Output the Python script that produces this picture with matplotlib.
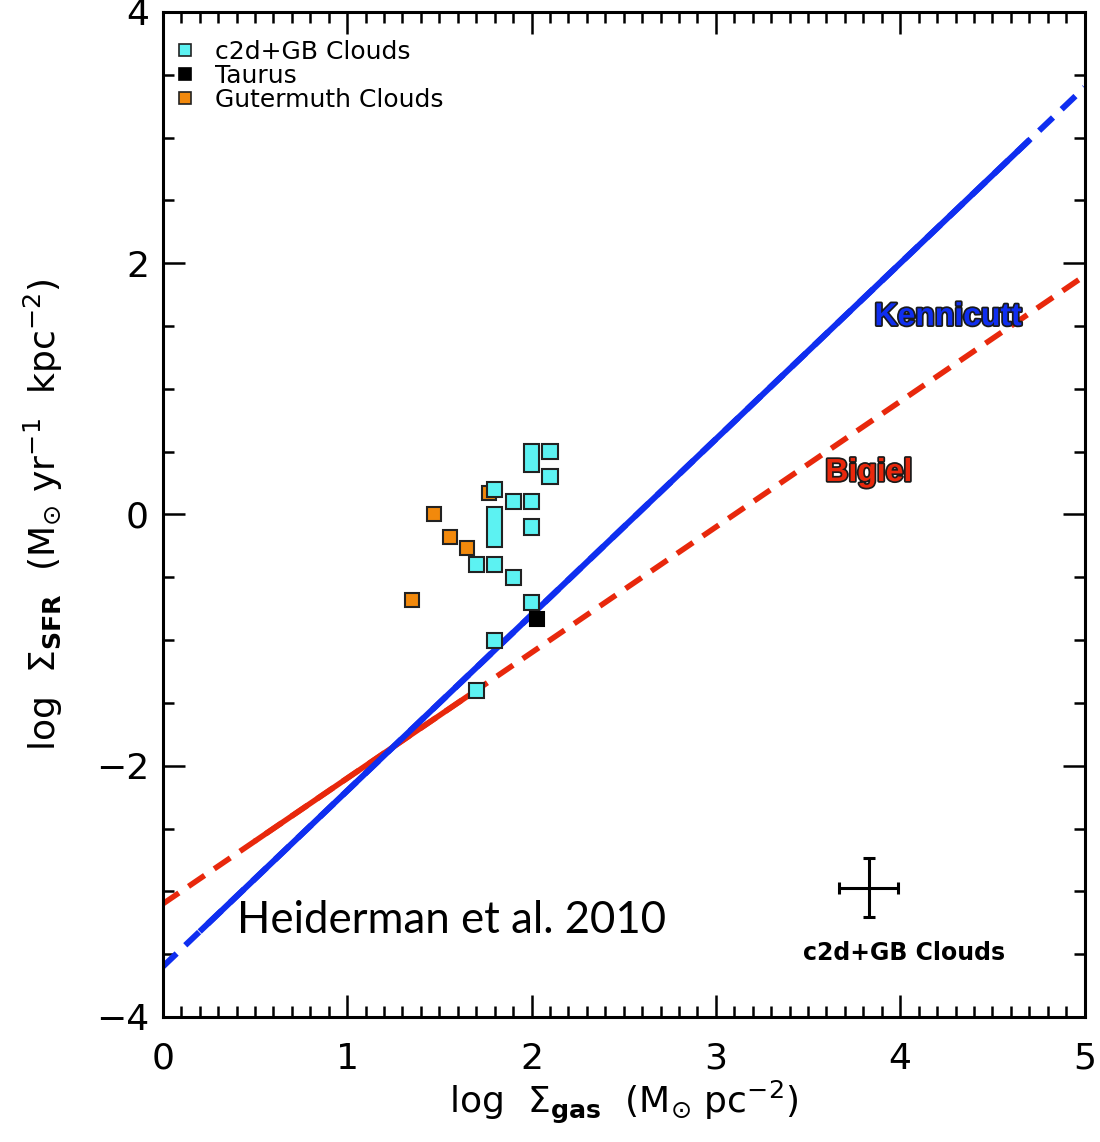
import numpy as np
import matplotlib
matplotlib.use("Agg")
import matplotlib.pyplot as plt
import matplotlib.patheffects as pe
from matplotlib.patches import Rectangle
from matplotlib.lines import Line2D

plt.rcParams['font.family'] = ['DejaVu Sans']
plt.rcParams['mathtext.fontset'] = 'dejavusans'
plt.rcParams['mathtext.default'] = 'regular'

# ----------------------------------------------------------
# data
# ----------------------------------------------------------

# c2d+GB clouds: x, y_low, y_high (tall boxes span several values)
c2d_x = [2.00, 2.10, 2.10, 1.80, 1.90, 2.00, 2.00, 1.80, 1.70, 1.80, 1.90, 2.00, 1.80, 1.70]
c2d_ylo = [0.40, 0.50, 0.30, 0.20, 0.10, 0.10, -0.10, -0.20, -0.40, -0.40, -0.50, -0.70, -1.00, -1.40]
c2d_yhi = [0.50, 0.50, 0.30, 0.20, 0.10, 0.10, -0.10, 0.00, -0.40, -0.40, -0.50, -0.70, -1.00, -1.40]

taurus_x = [2.03]
taurus_y = [-0.83]

guter_x = [1.77, 1.47, 1.56, 1.65, 1.35]
guter_y = [0.17, 0.00, -0.18, -0.27, -0.68]

# relations: log SFR = slope * log gas + offset
kenn_slope, kenn_offset = 1.4, -3.6
kenn_solid = [0.2, 4.7]
bigiel_slope, bigiel_offset = 1.0, -3.1
bigiel_solid = [0.5, 1.7]

# typical uncertainty
err_x, err_y = 3.83, -2.97
err_dx, err_dy = 0.16, 0.235

cyan = '#5cf2f2'
orange = '#f2890c'
blue = '#0f2ef0'
red = '#e8280c'

# ----------------------------------------------------------
# figure
# ----------------------------------------------------------

fig = plt.figure(figsize=(11, 11.42), dpi=100)
ax = fig.add_axes([0.148, 0.1095, 0.838, 0.880])

ax.set_xlim(0, 5)
ax.set_ylim(-4, 4)

# Kennicutt line
xx = np.linspace(0, 5, 2)
ax.plot(xx, kenn_slope * xx + kenn_offset, color=blue, lw=4.3,
        ls=(0, (3.2, 2.0)), zorder=2)
xs = np.array(kenn_solid)
ax.plot(xs, kenn_slope * xs + kenn_offset, color=blue, lw=4.3, zorder=3,
        solid_capstyle='butt')

# Bigiel line
ax.plot(xx, bigiel_slope * xx + bigiel_offset, color=red, lw=4.0,
        ls=(0, (3.5, 2.1)), zorder=2)
xs = np.array(bigiel_solid)
ax.plot(xs, bigiel_slope * xs + bigiel_offset, color=red, lw=4.0, zorder=2.5,
        solid_capstyle='butt')

# cyan boxes
w = 0.082
h = 0.12
for x, lo, hi in zip(c2d_x, c2d_ylo, c2d_yhi):
    ax.add_patch(Rectangle((x - w / 2, lo - h / 2), w, hi - lo + h,
                           facecolor=cyan, edgecolor='#222222', lw=1.5, zorder=5))

ax.plot(guter_x, guter_y, 's', ms=10.5, mfc=orange, mec='#222222', mew=1.5,
        ls='none', zorder=4)
ax.plot(taurus_x, taurus_y, 's', ms=10.5, mfc='black', mec='black', mew=1.5,
        ls='none', zorder=6)

# error cross
ax.errorbar([err_x], [err_y], xerr=[err_dx], yerr=[err_dy], fmt='none',
            ecolor='black', elinewidth=2.2, capsize=4, capthick=2.2, zorder=5)
ax.text(4.02, -3.49, 'c2d+GB Clouds', fontsize=17, fontweight='bold',
        ha='center', va='center')

# labels on lines
stroke = [pe.withStroke(linewidth=2.5, foreground='#1a1a1a')]
ax.text(4.26, 1.57, 'Kennicutt', color=blue, fontsize=23, fontweight='bold',
        family='Liberation Sans', ha='center', va='center',
        path_effects=stroke, zorder=7)
ax.text(3.83, 0.33, 'Bigiel', color=red, fontsize=23, fontweight='bold',
        family='Liberation Sans', ha='center', va='center',
        path_effects=stroke, zorder=7)

ax.text(0.40, -3.23, 'Heiderman et al. 2010', fontsize=31.5, family='Lato',
        ha='left', va='center')

# legend
handles = [
    Line2D([], [], marker='s', ls='none', ms=9, mfc=cyan, mec='#222222', mew=1.2),
    Line2D([], [], marker='s', ls='none', ms=9, mfc='black', mec='black', mew=1.2),
    Line2D([], [], marker='s', ls='none', ms=9, mfc=orange, mec='#222222', mew=1.2),
]
ax.legend(handles, ['c2d+GB Clouds', 'Taurus', 'Gutermuth Clouds'],
          loc='upper left', frameon=False, fontsize=18, handlelength=0.6,
          handletextpad=0.9, labelspacing=0.0, borderaxespad=0.2,
          bbox_to_anchor=(0.0, 0.987))

# ticks
ax.set_xticks(np.arange(0, 6, 1))
ax.set_xticks(np.arange(0, 5.01, 0.1), minor=True)
ax.set_yticks(np.arange(-4, 5, 2))
ax.set_yticks(np.arange(-4, 4.01, 0.5), minor=True)
ax.set_yticklabels(['\u22124', '\u22122', '0', '2', '4'])
ax.tick_params(which='both', direction='in', top=True, right=True, width=1.8,
               labelsize=26)
ax.tick_params(which='major', length=16)
ax.tick_params(which='minor', length=8)
ax.tick_params(axis='x', pad=18)
ax.tick_params(axis='y', pad=10)
for s in ax.spines.values():
    s.set_linewidth(2.2)

ax.set_xlabel(r'log  $\Sigma_{\bf gas}$  (M$_{\odot}$ pc$^{-2}$)', fontsize=26,
              labelpad=2)
ax.set_ylabel(r'log  $\Sigma_{\bf SFR}$  (M$_{\odot}$ yr$^{-1}$  kpc$^{-2}$)',
              fontsize=26, labelpad=22)

fig.savefig('out.png', dpi=100)
